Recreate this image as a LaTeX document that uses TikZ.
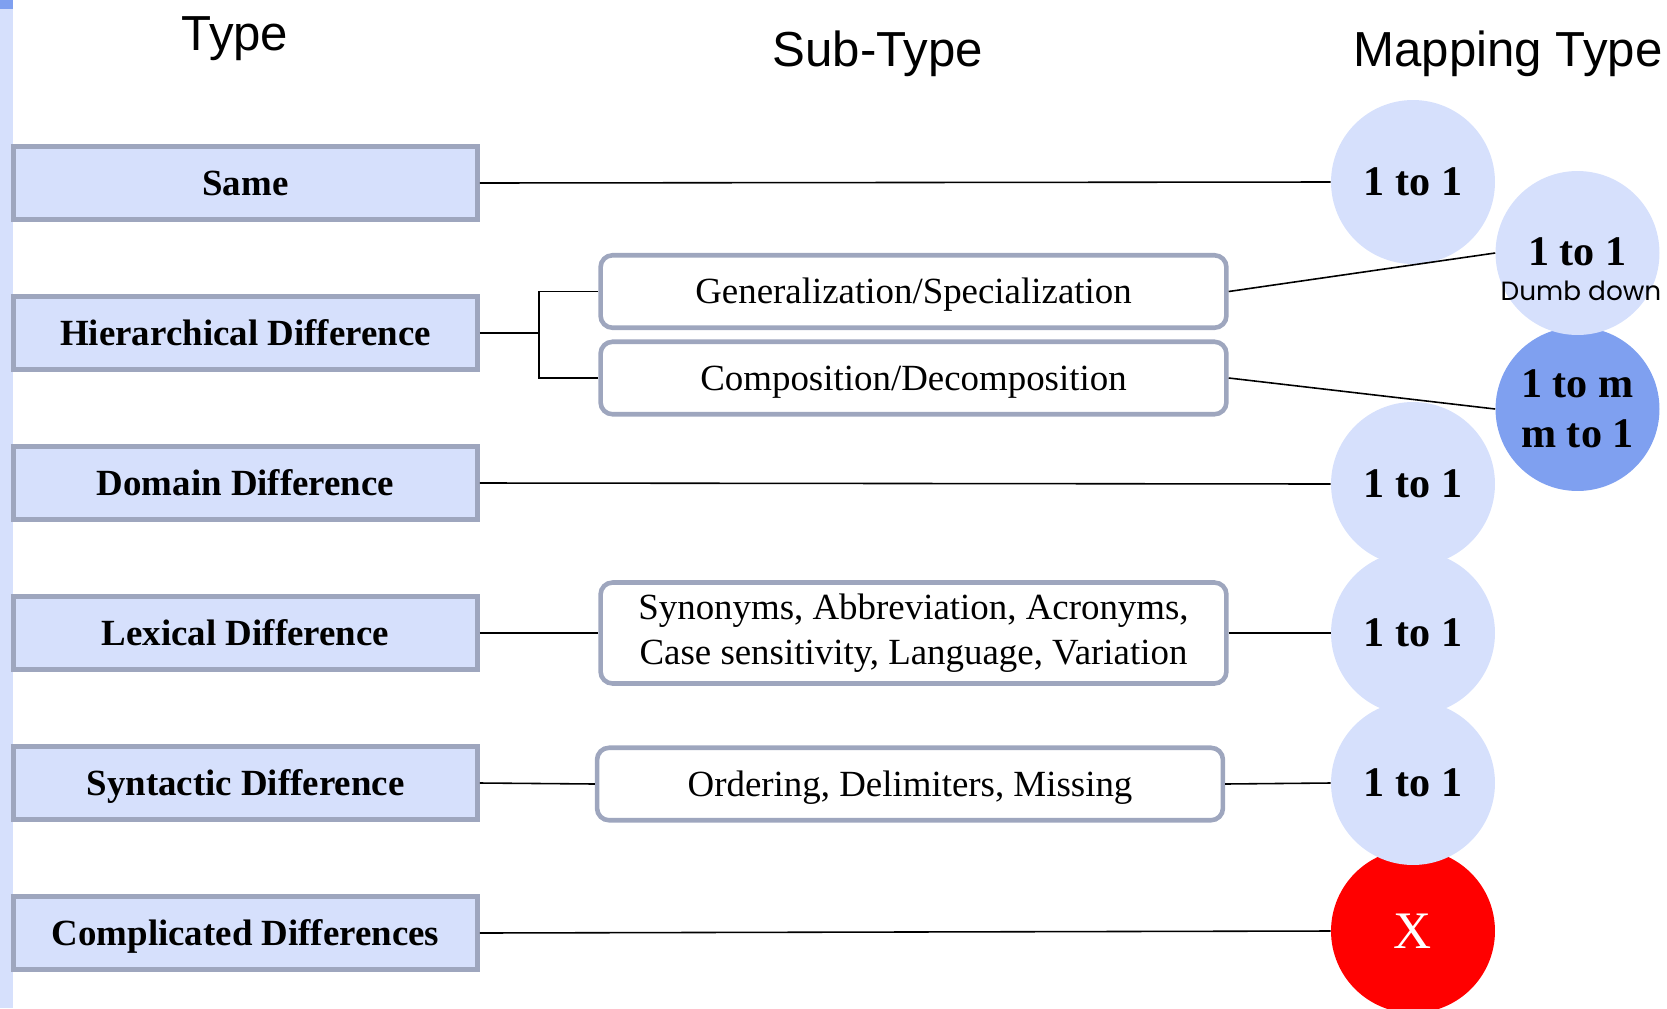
\documentclass[tikz,border=0pt]{standalone}
\usepackage{fontspec}
\setmainfont{Liberation Serif}
\newfontfamily\headfont{Liberation Sans}
\newfontfamily\notefont{Poppins}
\definecolor{boxblue}{RGB}{214,224,252}
\definecolor{darkblue}{RGB}{127,160,240}
\definecolor{edgegray}{RGB}{158,166,190}
\definecolor{xred}{RGB}{255,0,0}

\begin{document}
\begin{tikzpicture}[x=0.02cm, y=-0.02cm]
\tikzstyle{typebox}=[rectangle, draw=edgegray, line width=2.6pt, fill=boxblue, minimum width=9.29cm, minimum height=1.45cm, inner sep=0pt, font=\fontsize{21}{25}\selectfont\bfseries, text height=13.9pt, text depth=0pt]
\tikzstyle{subbox}=[rectangle, rounded corners=0.24cm, draw=edgegray, line width=2.6pt, fill=white, minimum width=12.52cm, minimum height=1.45cm, inner sep=0pt, font=\fontsize{21}{25.5}\selectfont, text height=13.9pt, text depth=0pt]
\tikzstyle{mapc}=[circle, fill=boxblue, minimum size=3.28cm, inner sep=0pt, font=\fontsize{24}{28.5}\selectfont\bfseries]
\tikzstyle{head}=[font=\headfont\fontsize{28}{33}\selectfont, anchor=base, inner sep=0pt]
\tikzstyle{link}=[line width=0.9pt]

\useasboundingbox (0,0) rectangle (1667,1008);
\fill[boxblue] (0,0) rectangle (13,1008);
\fill[darkblue] (0,0) rectangle (13,9);

% headers
\node[head] (htype) at (235,50) {Type};
\node[head] (hsub) at (878,66) {Sub-Type};
\node[head] (hmap) at (1508,66) {Mapping Type};

% types
\node[typebox] (same) at (245.5,183) {Same};
\node[typebox] (hier) at (245.5,333) {Hierarchical Difference};
\node[typebox] (dom) at (245.5,483) {Domain Difference};
\node[typebox] (lex) at (245.5,633) {Lexical Difference};
\node[typebox] (syn) at (245.5,783) {Syntactic Difference};
\node[typebox] (comp) at (245.5,933) {Complicated Differences};

% sub-types
\node[subbox] (gen) at (913.5,291.5) {Generalization/Specialization};
\node[subbox] (dec) at (913.5,378) {Composition/Decomposition};
\node[subbox, minimum height=2.02cm, text height=, text depth=, align=center] (lexsub) at (913.5,633)
  {Synonyms, Abbreviation, Acronyms,\\Case sensitivity, Language, Variation};
\node[subbox] (synsub) at (910,784) {Ordering, Delimiters, Missing};

% mapping types, lower ones first
\node[mapc, fill=xred, text=white, font=\fontsize{30}{36}\selectfont] (mx) at (1413,931) {X};
\node[mapc] (msyn) at (1413,783) {1 to 1};
\node[mapc] (mlex) at (1413,633) {1 to 1};
\node[mapc] (mdom) at (1413,484) {1 to 1};
\node[mapc, fill=darkblue, align=center] (mmany) at (1577.5,409) {1 to m\\m to 1};
\node[mapc] (mdumb) at (1577.5,253) {};
\node[font=\fontsize{24}{28.5}\selectfont\bfseries, anchor=base, inner sep=0pt] (dumbtop) at (1577.5,265) {1 to 1};
\node[font=\notefont\fontsize{15}{18}\selectfont, anchor=base, inner sep=0pt] (dumbnote) at (1581,300) {Dumb down};
\node[mapc] (msame) at (1413,182) {1 to 1};

\coordinate (brk) at (539,333);

\path[link]
(same.east) edge (msame.west)
(hier.east) edge (brk)
(gen.east) edge (mdumb.west)
(dec.east) edge (mmany.west)
(dom.east) edge (mdom.west)
(lex.east) edge (lexsub.west)
(lexsub.east) edge (mlex.west)
(syn.east) edge (synsub.west)
(synsub.east) edge (msyn.west)
(comp.east) edge (mx.west);
\draw[link] (gen.west) -| (brk) |- (dec.west);

\end{tikzpicture}
\end{document}
